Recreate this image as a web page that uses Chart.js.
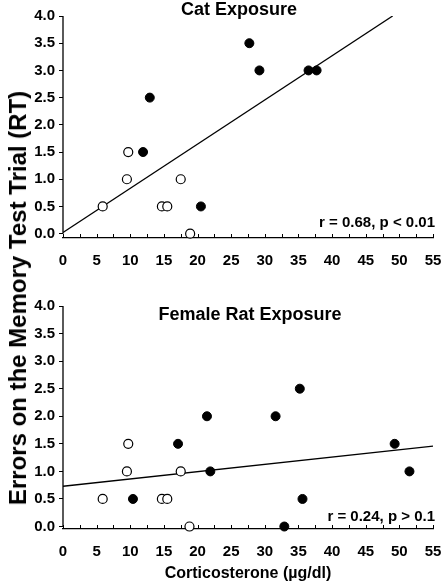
<!DOCTYPE html>
<html>
<head>
<meta charset="utf-8">
<script src="https://cdn.jsdelivr.net/npm/chart.js@4.4.1/dist/chart.umd.min.js"></script>
<style>
  body { margin: 0; background: #fff; }
  #wrap { position: relative; width: 443px; height: 583px; overflow: hidden; }
  canvas { position: absolute; left: 0; }
  #ytitle {
    position: absolute; left: 18px; top: 298px;
    transform: translate(-50%, -50%) rotate(-90deg);
    white-space: nowrap;
    font: bold 24px "Liberation Sans", Arial, sans-serif;
    color: #000;
  }
</style>
</head>
<body>
<div id="wrap">
  <canvas id="catChart" width="443" height="270" style="top:0"></canvas>
  <canvas id="ratChart" width="443" height="293" style="top:290px"></canvas>
  <div id="ytitle">Errors on the Memory Test Trial (RT)</div>
</div>
<script>
// Cat exposure (top panel)
const catOpenX = [5.9, 9.5, 9.7, 14.7, 15.5, 17.5, 18.9];
const catOpenY = [0.5, 1.0, 1.5, 0.5, 0.5, 1.0, 0.0];
const catFilledX = [11.9, 12.9, 20.5, 27.7, 29.2, 36.5, 37.7];
const catFilledY = [1.5, 2.5, 0.5, 3.5, 3.0, 3.0, 3.0];
const catFitX = [0, 49];
const catFitY = [0.02, 4.0];

// Female rat exposure (bottom panel)
const ratOpenX = [5.9, 9.5, 9.7, 14.7, 15.5, 17.5, 18.8];
const ratOpenY = [0.5, 1.0, 1.5, 0.5, 0.5, 1.0, 0.0];
const ratFilledX = [10.4, 17.1, 21.4, 21.9, 31.6, 32.9, 35.2, 35.6, 49.3, 51.5];
const ratFilledY = [0.5, 1.5, 2.0, 1.0, 2.0, 0.0, 2.5, 0.5, 1.5, 1.0];
const ratFitX = [0, 55];
const ratFitY = [0.73, 1.46];

const yTicks = [0, 0.5, 1.0, 1.5, 2.0, 2.5, 3.0, 3.5, 4.0];
const xTicks = [0, 5, 10, 15, 20, 25, 30, 35, 40, 45, 50, 55];
const xMinorStep = 2.5;

const FONT = '"Liberation Sans", Arial, sans-serif';

function pts(xs, ys) {
  return xs.map((x, i) => ({ x: x, y: ys[i] }));
}

// axis line stopping at 0, upward minor ticks, panel title and stats text
const panelDecor = {
  id: 'panelDecor',
  afterDraw(chart, args, o) {
    const ctx = chart.ctx, a = chart.chartArea;
    const x = chart.scales.x, y = chart.scales.y;
    const yTop = yTicks[yTicks.length - 1];
    const xLast = xTicks[xTicks.length - 1];
    ctx.save();
    ctx.strokeStyle = '#000';
    ctx.lineWidth = 1.3;
    ctx.beginPath();
    ctx.moveTo(a.left, y.getPixelForValue(yTop));
    ctx.lineTo(a.left, y.getPixelForValue(yTicks[0]));
    ctx.stroke();
    ctx.lineWidth = 1;
    ctx.beginPath();
    for (let v = xTicks[0]; v <= xLast; v += xMinorStep) {
      const px = Math.round(x.getPixelForValue(v)) + 0.5;
      ctx.moveTo(px, a.bottom);
      ctx.lineTo(px, a.bottom - 4);
    }
    ctx.stroke();
    ctx.fillStyle = '#000';
    ctx.textBaseline = 'middle';
    ctx.font = 'bold 18px ' + FONT;
    ctx.textAlign = 'center';
    ctx.fillText(o.title, o.titleX, o.titleY);
    ctx.font = 'bold 15px ' + FONT;
    ctx.textAlign = 'right';
    ctx.fillText(o.stat, a.right + 2, o.statY);
    ctx.restore();
  }
};

function makeChart(id, openX, openY, filledX, filledY, fitX, fitY, o) {
  return new Chart(document.getElementById(id), {
    type: 'scatter',
    data: {
      datasets: [
        {
          data: pts(openX, openY),
          backgroundColor: '#fff',
          borderColor: '#000',
          borderWidth: 1.2,
          pointRadius: 4.5,
          clip: false
        },
        {
          data: pts(filledX, filledY),
          backgroundColor: '#000',
          borderColor: '#000',
          borderWidth: 1,
          pointRadius: 4.5,
          clip: false
        },
        {
          type: 'line',
          data: pts(fitX, fitY),
          borderColor: '#000',
          borderWidth: 1.3,
          pointRadius: 0,
          fill: false
        }
      ]
    },
    options: {
      responsive: false,
      animation: false,
      events: [],
      layout: { padding: { left: 0, right: 10, top: 16, bottom: 0 } },
      plugins: {
        legend: { display: false },
        tooltip: { enabled: false },
        panelDecor: o
      },
      scales: {
        x: {
          type: 'linear',
          min: xTicks[0],
          max: xTicks[xTicks.length - 1],
          grid: { display: false, drawTicks: false },
          border: { display: true, color: '#000', width: 1.3 },
          ticks: {
            padding: 14,
            color: '#000',
            font: { family: FONT, size: 15, weight: 'bold' },
            maxRotation: 0
          },
          afterBuildTicks(s) { s.ticks = xTicks.map(v => ({ value: v })); },
          title: {
            display: !!o.xTitle,
            text: o.xTitle || '',
            color: '#000',
            font: { family: FONT, size: 16, weight: 'bold' },
            padding: { top: 0, bottom: 0 }
          },
          afterFit(s) {
            s.height = o.xHeight;
            s.paddingLeft = 0;
            s.paddingRight = 0;
          }
        },
        y: {
          min: o.yMin,
          max: yTicks[yTicks.length - 1],
          grid: { display: true, drawOnChartArea: false, drawTicks: true, tickLength: 4, color: '#000', lineWidth: 1 },
          border: { display: false },
          ticks: {
            padding: 4,
            color: '#000',
            font: { family: FONT, size: 15, weight: 'bold' },
            callback: v => v.toFixed(1)
          },
          afterBuildTicks(s) { s.ticks = yTicks.map(v => ({ value: v })); },
          afterFit(s) { s.width = 63; }
        }
      }
    },
    plugins: [panelDecor]
  });
}

makeChart('catChart', catOpenX, catOpenY, catFilledX, catFilledY, catFitX, catFitY, {
  title: 'Cat Exposure', titleX: 239, titleY: 10,
  stat: 'r = 0.68, p < 0.01', statY: 223,
  yMin: -0.08, xHeight: 32
});

makeChart('ratChart', ratOpenX, ratOpenY, ratFilledX, ratFilledY, ratFitX, ratFitY, {
  title: 'Female Rat Exposure', titleX: 250, titleY: 25,
  stat: 'r = 0.24, p > 0.1', statY: 227,
  yMin: -0.045, xHeight: 54,
  xTitle: 'Corticosterone (\u00b5g/dl)'
});
</script>
</body>
</html>
